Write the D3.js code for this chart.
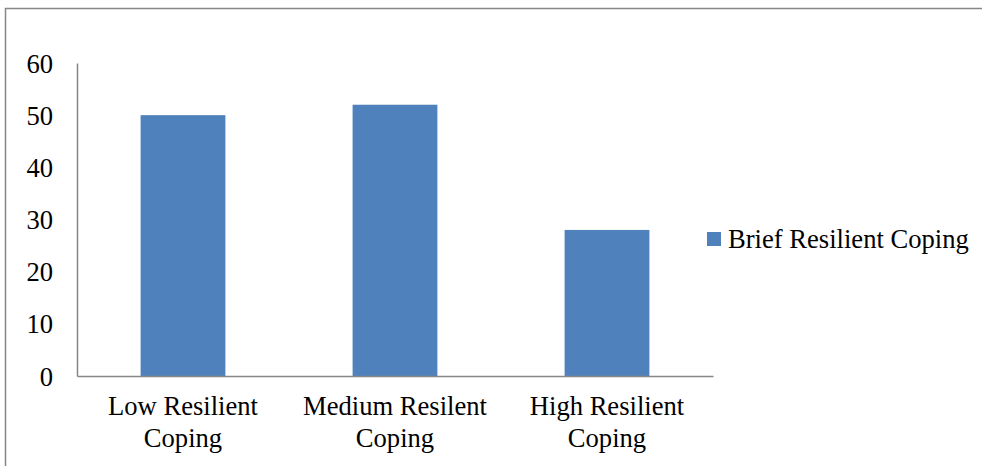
<!DOCTYPE html>
<html>
<head>
<meta charset="utf-8">
<script src="https://cdn.jsdelivr.net/npm/d3@7"></script>
<style>
  html, body { margin: 0; padding: 0; background: #fff; }
  svg { display: block; }
  svg text { font-family: "Liberation Serif", Tinos, "Times New Roman", serif !important; }
</style>
</head>
<body>
<svg id="chart" width="982" height="466"></svg>
<script>
// Chart data
const categories = [["Low Resilient", "Coping"], ["Medium Resilent", "Coping"], ["High Resilient", "Coping"]];
const values = [50, 52, 28];
const seriesName = "Brief Resilient Coping";
const yTicks = [0, 10, 20, 30, 40, 50, 60];

const svg = d3.select("#chart");
const W = 982, H = 466;
const plot = { left: 77, right: 713, top: 63, bottom: 376 };
const font = "Liberation Serif";
const fontSize = 26.6;
const barColor = "#4F81BD";
const axisColor = "#868686";

// Outer chart-area border (runs off the right and bottom edges)
svg.append("rect")
  .attr("x", 5.5).attr("y", 8.5)
  .attr("width", W + 10).attr("height", H + 10)
  .attr("fill", "none").attr("stroke", axisColor).attr("stroke-width", 1.5);

const x = d3.scaleBand()
  .domain(d3.range(categories.length))
  .range([plot.left, plot.right])
  .paddingInner(0.6).paddingOuter(0.3);

const y = d3.scaleLinear().domain([0, 60]).range([plot.bottom, plot.top]);

// Bars
svg.append("g").selectAll("rect")
  .data(values)
  .join("rect")
  .attr("x", (d, i) => x(i))
  .attr("width", x.bandwidth())
  .attr("y", d => y(d))
  .attr("height", d => y(0) - y(d))
  .attr("fill", barColor);

// Y axis
const yAxis = svg.append("g")
  .attr("transform", `translate(${plot.left},0)`)
  .call(d3.axisLeft(y).tickValues(yTicks).tickSize(0).tickPadding(24).tickFormat(d3.format("d")))
  .attr("font-family", null)
  .attr("font-size", null);
yAxis.select(".domain").attr("stroke", axisColor).attr("stroke-width", 1.5);
yAxis.selectAll("text")
  .attr("fill", "#000")
  .attr("dy", "0.34em")
  .attr("font-family", font)
  .attr("font-size", fontSize);

// X axis
const xAxis = svg.append("g")
  .attr("transform", `translate(0,${plot.bottom})`)
  .call(d3.axisBottom(x).tickSize(0).tickFormat(""));
xAxis.select(".domain").attr("stroke", axisColor).attr("stroke-width", 1.5);

// Two-line category labels
const labels = svg.append("g")
  .selectAll("text")
  .data(categories)
  .join("text")
  .attr("text-anchor", "middle")
  .attr("font-family", font)
  .attr("font-size", fontSize)
  .attr("fill", "#000")
  .attr("x", (d, i) => x(i) + x.bandwidth() / 2)
  .attr("y", 415);
labels.selectAll("tspan")
  .data(d => d)
  .join("tspan")
  .attr("x", function () { return d3.select(this.parentNode).attr("x"); })
  .attr("dy", (d, i) => i === 0 ? 0 : 32)
  .text(d => d);

// Legend
const legend = svg.append("g").attr("transform", "translate(707,232)");
legend.append("rect")
  .attr("width", 14).attr("height", 14)
  .attr("fill", barColor);
legend.append("text")
  .attr("x", 21).attr("y", 15.5)
  .attr("font-family", font)
  .attr("font-size", fontSize)
  .attr("fill", "#000")
  .text(seriesName);
</script>
</body>
</html>
